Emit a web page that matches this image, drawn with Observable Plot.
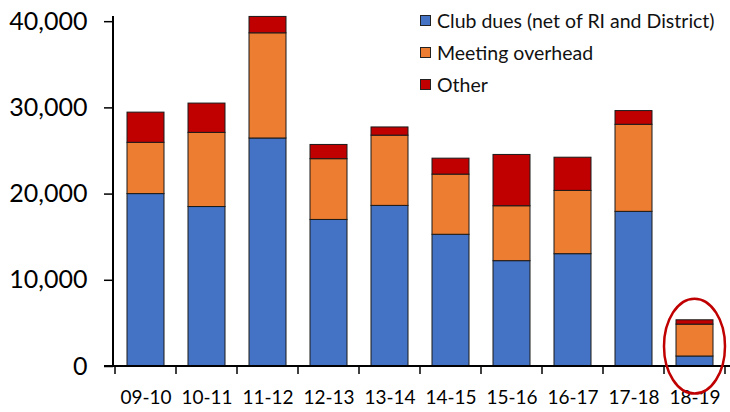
<!DOCTYPE html>
<html><head><meta charset="utf-8">
<script src="https://cdn.jsdelivr.net/npm/d3@7"></script>
<script src="https://cdn.jsdelivr.net/npm/@observablehq/plot@0.6"></script>
<style>
html,body{margin:0;padding:0;background:#fff;}
#wrap{position:relative;width:730px;height:412px;font-family:Lato,"Open Sans",sans-serif;}
#legend{position:absolute;left:420px;top:4px;}
.row{display:flex;align-items:center;height:32px;font-size:19.5px;color:#111;white-space:nowrap;}
.sw{width:9px;height:9px;border:1px solid #222;margin-right:6px;flex:none;}
</style></head>
<body><div id="wrap"><div id="legend"></div></div>
<script>
const categories = ["09-10","10-11","11-12","12-13","13-14","14-15","15-16","16-17","17-18","18-19"];
const seriesNames = ["Club dues (net of RI and District)","Meeting overhead","Other"];
const clubDues = [20000,18500,26450,17000,18630,15280,12220,13030,17940,1160];
const meetingOverhead = [5950,8600,12200,7050,8150,6980,6370,7340,10100,3700];
const other = [3500,3400,1900,1650,950,1850,5950,3850,1590,500];
const seriesValues = [clubDues, meetingOverhead, other];
const colors = ["#4472C4","#ED7D31","#C00000"];
const yTicks = [0,10000,20000,30000,40000];
const highlightCategory = "18-19";
const highlightCenter = 2300;
const highlightHalfHeight = 5500;

const rows = [];
seriesNames.forEach((s, i) => categories.forEach((c, j) => rows.push({year: c, series: s, value: seriesValues[i][j]})));

function axesAndHighlight(index, scales, values, dims) {
  const {x, y} = scales;
  const g = d3.create("svg:g");
  const left = dims.marginLeft, right = dims.width - dims.marginRight;
  const top = dims.marginTop;
  const y0 = y(0);
  const bw = x.bandwidth(), step = x.step();
  const gap = (step - bw) / 2;
  g.append("line").attr("x1", left).attr("x2", left).attr("y1", top).attr("y2", y0 + 1)
    .attr("stroke", "#000").attr("stroke-width", 2);
  g.append("line").attr("x1", left - 9).attr("x2", right + 2).attr("y1", y0).attr("y2", y0)
    .attr("stroke", "#000").attr("stroke-width", 2);
  const bounds = categories.map(c => x(c) - gap);
  bounds.push(x(categories[categories.length - 1]) + bw + gap);
  for (const b of bounds) {
    g.append("line").attr("x1", b).attr("x2", b).attr("y1", y0).attr("y2", y0 + 8)
      .attr("stroke", "#000").attr("stroke-width", 1.5);
  }
  g.append("ellipse")
    .attr("cx", x(highlightCategory) + bw / 2)
    .attr("cy", y(highlightCenter))
    .attr("rx", step / 2)
    .attr("ry", y(0) - y(highlightHalfHeight))
    .attr("fill", "none").attr("stroke", "#C00000").attr("stroke-width", 2.5);
  return g.node();
}

const plot = Plot.plot({
  width: 730, height: 412,
  marginLeft: 113, marginRight: 2, marginTop: 16, marginBottom: 46,
  style: {fontFamily: "Lato, 'Open Sans', sans-serif", background: "#fff", color: "#000"},
  x: {domain: categories, paddingInner: 0.39, paddingOuter: 0.195, label: null},
  y: {domain: [0, 40600], label: null},
  color: {domain: seriesNames, range: colors},
  marks: [
    Plot.barY(rows, {x: "year", y: "value", fill: "series", stroke: "#1a1a1a", strokeWidth: 1}),
    Plot.axisY({ticks: yTicks, tickSize: 9, tickPadding: 17, tickFormat: d3.format(","), fontSize: 25, strokeWidth: 1.5, label: null}),
    Plot.axisX({tickSize: 0, tickPadding: 24, fontSize: 19, label: null}),
    axesAndHighlight
  ]
});
document.getElementById("wrap").prepend(plot);

const legend = document.getElementById("legend");
seriesNames.forEach((s, i) => {
  const r = document.createElement("div"); r.className = "row";
  const sw = document.createElement("div"); sw.className = "sw"; sw.style.background = colors[i];
  const t = document.createElement("span"); t.textContent = s;
  r.append(sw, t); legend.append(r);
});
</script>
</body></html>
